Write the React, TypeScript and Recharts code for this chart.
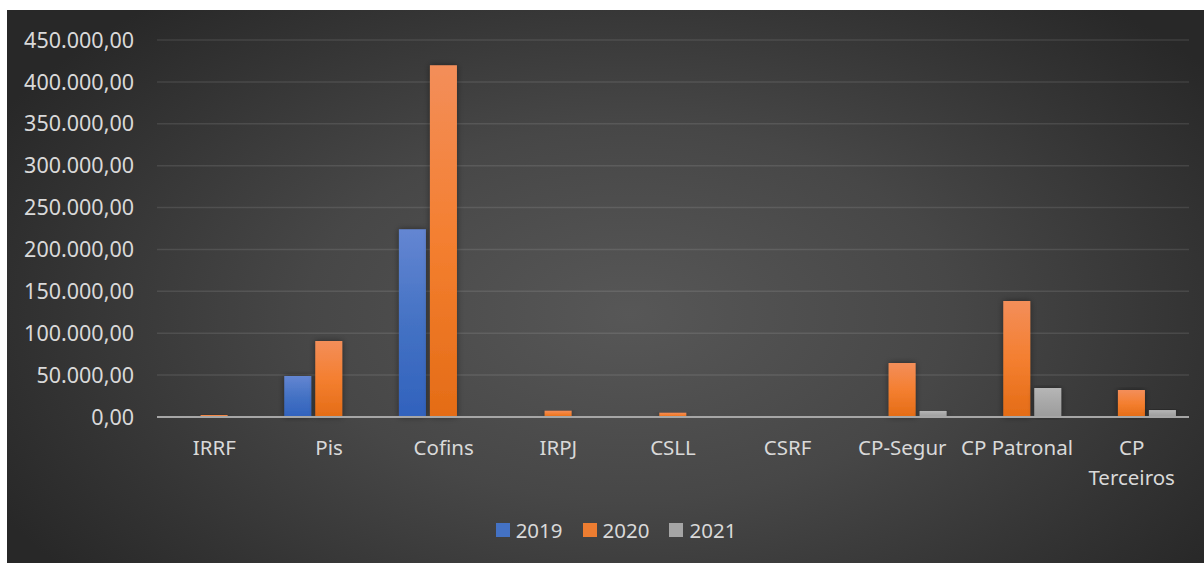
import { BarChart, Bar, XAxis, YAxis, CartesianGrid, Legend } from "recharts"

const categories = ["IRRF", "Pis", "Cofins", "IRPJ", "CSLL", "CSRF", "CP-Segur", "CP Patronal", "CP Terceiros"]
const values2019 = [0, 49000, 224000, 0, 0, 0, 0, 0, 0]
const values2020 = [2400, 90800, 420000, 7500, 5100, 300, 64400, 138400, 32200]
const values2021 = [0, 0, 0, 0, 0, 0, 7200, 34600, 8300]
const yTicks = [0, 50000, 100000, 150000, 200000, 250000, 300000, 350000, 400000, 450000]

const data = categories.map((name, i) => ({
  name,
  "2019": values2019[i],
  "2020": values2020[i],
  "2021": values2021[i],
}))

const FONT = "'Noto Sans', 'Open Sans', sans-serif"
const TEXT = "#d9d9d9"

function formatBR(v: number) {
  const int = Math.round(v).toString().replace(/\B(?=(\d{3})+(?!\d))/g, ".")
  return `${int},00`
}

function XTick(props: any) {
  const { x, y, payload } = props
  const label: string = payload.value
  const lines = label.length > 11 ? label.split(" ") : [label]
  return (
    <text x={x} y={y} textAnchor="middle" fill={TEXT} fontSize={20.5} fontFamily={FONT}>
      {lines.map((l, i) => (
        <tspan key={i} x={x} dy={i === 0 ? 30 : 30}>
          {l}
        </tspan>
      ))}
    </text>
  )
}

const legendColors: Record<string, string> = { "2019": "#4472c4", "2020": "#ed7d31", "2021": "#a5a5a5" }

function LegendContent(props: any) {
  const { payload } = props
  return (
    <div
      style={{
        display: "flex",
        justifyContent: "center",
        alignItems: "center",
        boxSizing: "border-box",
        height: 44,
        paddingLeft: 36,
        paddingBottom: 22,
        fontFamily: FONT,
        fontSize: 20.5,
        color: TEXT,
      }}
    >
      {payload.map((p: any) => (
        <div key={p.value} style={{ display: "flex", alignItems: "center", margin: "0 10px" }}>
          <span style={{ width: 14, height: 14, background: legendColors[p.value], display: "inline-block", marginRight: 6 }} />
          <span>{p.value}</span>
        </div>
      ))}
    </div>
  )
}

export default function App() {
  return (
    <div
      style={{
        position: "absolute",
        left: 7,
        top: 10,
        width: 1197,
        height: 553,
        background: "radial-gradient(ellipse 60% 75% at 52% 55%, #575757 0%, #474747 45%, #333333 80%, #282828 100%)",
      }}
    >
      <BarChart
        width={1197}
        height={553}
        data={data}
        margin={{ top: 30, right: 15, left: 0, bottom: 0 }}
        barCategoryGap="11%"
        barGap={4}
      >
        <defs>
          <linearGradient id="g2019" x1="0" y1="0" x2="0" y2="1">
            <stop offset="0%" stopColor="#6486d2" />
            <stop offset="50%" stopColor="#4472c4" />
            <stop offset="100%" stopColor="#3162bd" />
          </linearGradient>
          <linearGradient id="g2020" x1="0" y1="0" x2="0" y2="1">
            <stop offset="0%" stopColor="#f38e5a" />
            <stop offset="50%" stopColor="#f47f30" />
            <stop offset="100%" stopColor="#e46c16" />
          </linearGradient>
          <linearGradient id="g2021" x1="0" y1="0" x2="0" y2="1">
            <stop offset="0%" stopColor="#b6b6b6" />
            <stop offset="50%" stopColor="#a8a8a8" />
            <stop offset="100%" stopColor="#9c9c9c" />
          </linearGradient>
          <filter id="barShadow" x="-30%" y="-10%" width="160%" height="120%">
            <feDropShadow dx="0" dy="0" stdDeviation="3" floodColor="#000" floodOpacity="0.45" />
          </filter>
        </defs>
        <CartesianGrid vertical={false} stroke="rgba(255,255,255,0.1)" strokeWidth={1.5} />
        <XAxis
          dataKey="name"
          height={102}
          axisLine={{ stroke: "#a6a6a6", strokeWidth: 2 }}
          tickLine={false}
          interval={0}
          tick={<XTick />}
        />
        <YAxis
          width={150}
          domain={[0, 450000]}
          ticks={yTicks}
          axisLine={false}
          tickLine={false}
          tickSize={0}
          tickMargin={23}
          tickFormatter={formatBR}
          tick={{ fill: TEXT, fontSize: 21.5, fontFamily: FONT }}
        />
        <Legend verticalAlign="bottom" height={44} content={<LegendContent />} />
        <Bar dataKey="2019" fill="url(#g2019)" filter="url(#barShadow)" isAnimationActive={false} />
        <Bar dataKey="2020" fill="url(#g2020)" filter="url(#barShadow)" isAnimationActive={false} />
        <Bar dataKey="2021" fill="url(#g2021)" filter="url(#barShadow)" isAnimationActive={false} />
      </BarChart>
    </div>
  )
}
